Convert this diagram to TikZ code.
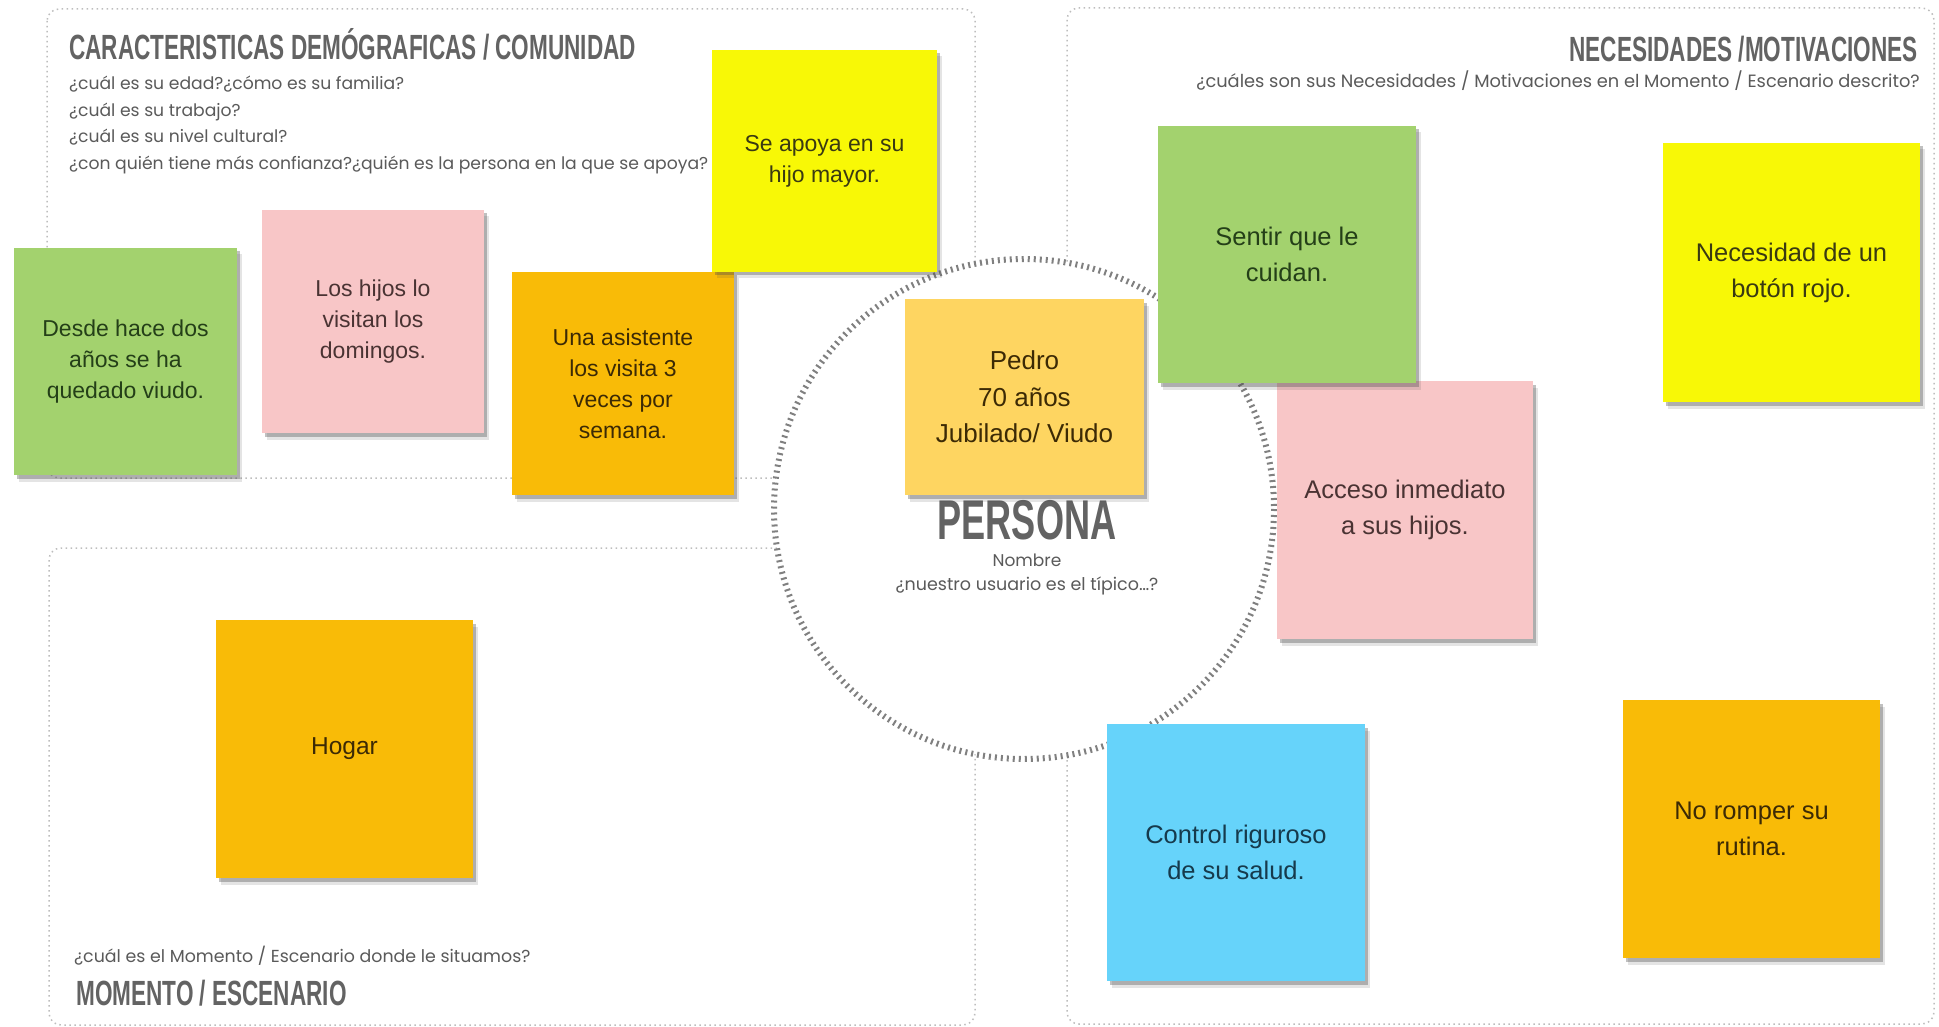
\documentclass[tikz,border=0pt]{standalone}
\usepackage{fontspec}
\setmainfont{Liberation Sans}
\newfontfamily\headfont{Liberation Sans}[FakeStretch=0.645]
\newfontfamily\qfont{Poppins}
\usetikzlibrary{shadows}
\definecolor{headgray}{HTML}{636363}
\definecolor{qgray}{HTML}{5A5A5A}
\definecolor{secgray}{HTML}{BDBDBD}
\definecolor{circgray}{HTML}{808080}
\definecolor{sgreen}{HTML}{A3D26E}
\definecolor{spink}{HTML}{F8C6C7}
\definecolor{sorange}{HTML}{F9BB07}
\definecolor{syellow}{HTML}{F8F806}
\definecolor{spedro}{HTML}{FED561}
\definecolor{sblue}{HTML}{66D3FA}
\definecolor{tgreen}{HTML}{243F18}
\definecolor{tpink}{HTML}{4A3333}
\definecolor{torange}{HTML}{3C2A05}
\definecolor{tyellow}{HTML}{3A3A12}
\definecolor{tblue}{HTML}{163A4C}
\begin{document}
\begin{tikzpicture}[x=1pt,y=-1pt,
  sticky/.style={rectangle, inner sep=0pt, align=center,
    font=\fontsize{23}{31}\selectfont,
    drop shadow={shadow xshift=2.5pt,shadow yshift=-3.5pt,opacity=0.35,fill=black!70},
    drop shadow={shadow xshift=5pt,shadow yshift=-6.5pt,opacity=0.15,fill=black!70}},
  bigtxt/.style={font=\fontsize{25.5}{36}\selectfont},
  secbox/.style={draw=secgray, line width=1.5pt, dash pattern=on 1.5pt off 3.5pt, rounded corners=12pt},
  circ/.style={draw=circgray, fill=white, line width=6pt, dash pattern=on 2pt off 4pt},
  headtxt/.style={inner sep=0pt, text=headgray, font=\headfont\fontsize{35}{35}\selectfont\bfseries},
  qtext/.style={inner sep=0pt, text=qgray, font=\qfont\fontsize{17.2}{20}\selectfont},
]
\fill[white] (0,0) rectangle (1939,1027);
\useasboundingbox (0,0) rectangle (1939,1027);

% sections
\draw[secbox] (47,9) rectangle (975,478);
\draw[secbox] (49,548) rectangle (975,1025);
\draw[secbox] (1067,8) rectangle (1934,1024);

% central circle
\draw[circ] (1024,509) circle[radius=250];

% section texts
\node[headtxt, anchor=base west] (h1) at (69,60) {CARACTERISTICAS DEMÓGRAFICAS / COMUNIDAD};
\node[qtext, anchor=base west] (q1) at (69,90) {¿cuál es su edad?¿cómo es su familia?};
\node[qtext, anchor=base west] (q2) at (69,117) {¿cuál es su trabajo?};
\node[qtext, anchor=base west] (q3) at (69,143) {¿cuál es su nivel cultural?};
\node[qtext, anchor=base west] (q4) at (69,170) {¿con quién tiene más confianza?¿quién es la persona en la que se apoya?};

\node[headtxt, anchor=base east] (h2) at (1918,62) {NECESIDADES /MOTIVACIONES};
\node[qtext, anchor=base east, font=\qfont\fontsize{17.8}{20}\selectfont] (q5) at (1920,88) {¿cuáles son sus Necesidades / Motivaciones en el Momento / Escenario descrito?};

\node[qtext, anchor=base west, font=\qfont\fontsize{17.4}{20}\selectfont] (q6) at (74,962) {¿cuál es el Momento / Escenario donde le situamos?};
\node[headtxt, anchor=base west] (h3) at (76,1005) {MOMENTO / ESCENARIO};

% persona
\node[headtxt, anchor=base, font=\headfont\fontsize{56}{56}\selectfont\bfseries] (persona) at (1027,539) {PERSONA};
\node[qtext, anchor=base, font=\qfont\fontsize{17}{18}\selectfont] (nombre) at (1027,566) {Nombre};
\node[qtext, anchor=base, font=\qfont\fontsize{17.5}{18}\selectfont] (tipico) at (1027,590) {¿nuestro usuario es el típico…?};

% stickies: demographics
\node[sticky, fill=sgreen, text=tgreen, minimum width=223pt, minimum height=227pt] (s1) at (125.5,361.5) {Desde hace dos\\años se ha\\quedado viudo.};
\node[sticky, fill=spink, text=tpink, minimum width=222pt, minimum height=223pt] (s2) at (373,321.5) {Los hijos lo\\visitan los\\domingos.};
\node[sticky, fill=sorange, text=torange, minimum width=222pt, minimum height=223pt] (s3) at (623,383.5) {Una asistente\\los visita 3\\veces por\\semana.};
\node[sticky, fill=syellow, text=tyellow, minimum width=225pt, minimum height=222pt] (s4) at (824.5,161) {Se apoya en su\\hijo mayor.};

% pedro
\node[sticky, fill=spedro, text=torange, minimum width=239pt, minimum height=196pt, font=\fontsize{26}{36.5}\selectfont] (pedro) at (1024.5,397) {Pedro\\70 años\\Jubilado/ Viudo};

% needs
\node[sticky, bigtxt, fill=spink, text=tpink, minimum width=256pt, minimum height=258pt] (s8) at (1405,510) {Acceso inmediato\\a sus hijos.};
\node[sticky, bigtxt, fill=sgreen, text=tgreen, minimum width=258pt, minimum height=257pt] (s6) at (1287,254.5) {Sentir que le\\cuidan.};
\node[sticky, bigtxt, fill=syellow, text=tyellow, minimum width=257pt, minimum height=259pt] (s7) at (1791.5,272.5) {Necesidad de un\\botón rojo.};
\node[sticky, bigtxt, fill=sblue, text=tblue, minimum width=258pt, minimum height=257pt] (s9) at (1236,852.5) {Control riguroso\\de su salud.};
\node[sticky, bigtxt, fill=sorange, text=torange, minimum width=257pt, minimum height=258pt] (s10) at (1751.5,829) {No romper su\\rutina.};

% scenario
\node[sticky, fill=sorange, text=torange, minimum width=257pt, minimum height=258pt, font=\fontsize{24.5}{30}\selectfont] (s11) at (344.5,749) {Hogar};
\end{tikzpicture}
\end{document}
